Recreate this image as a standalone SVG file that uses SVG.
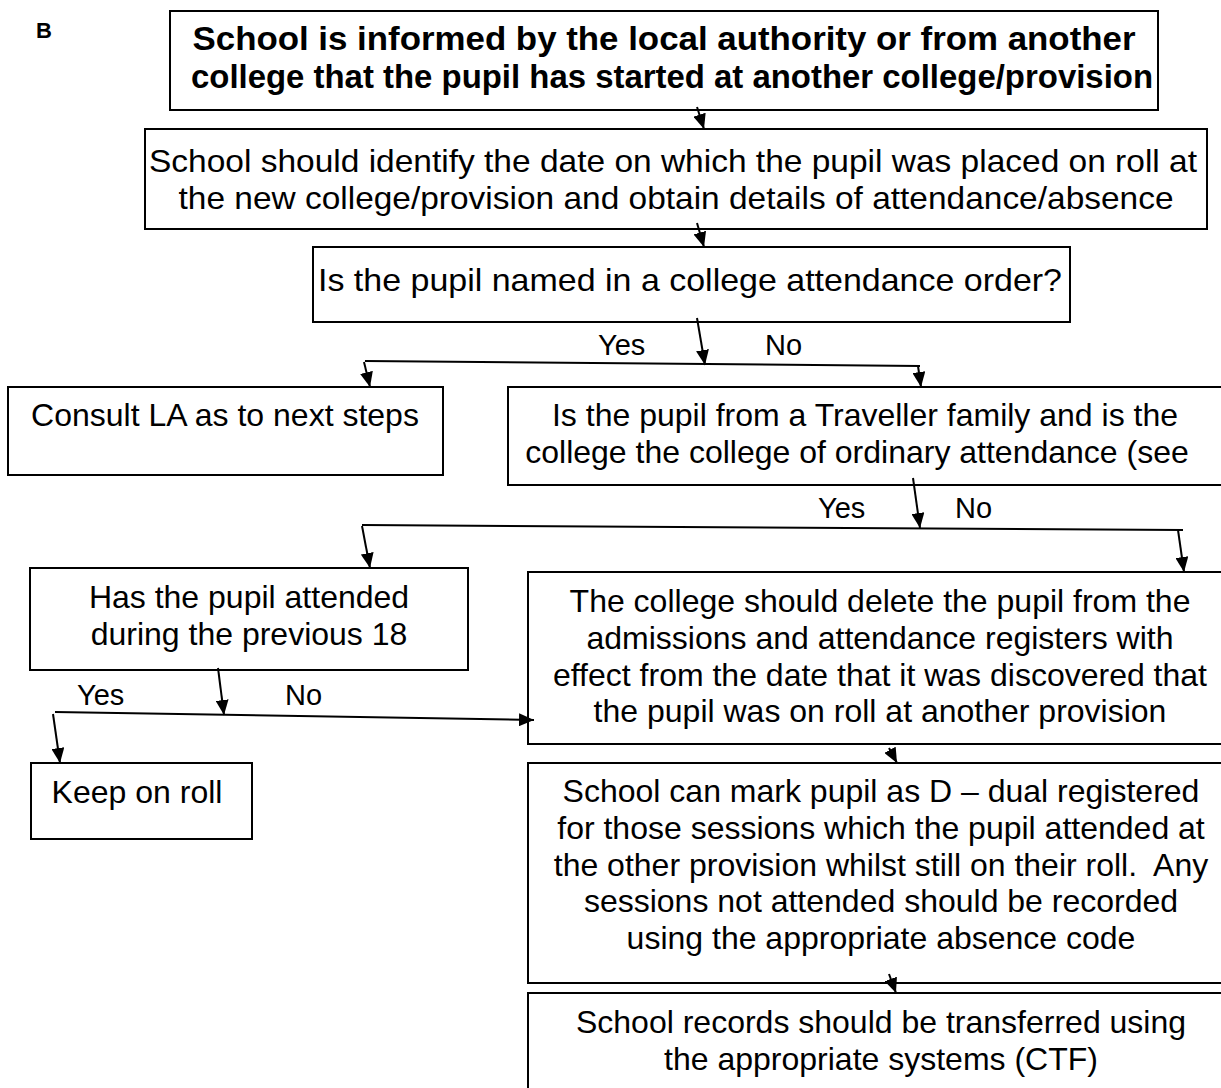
<svg xmlns="http://www.w3.org/2000/svg" width="1221" height="1088" viewBox="0 0 1221 1088">
<defs>
<style>
.box{fill:#fff;stroke:#000;stroke-width:2}
.t{font-family:"Liberation Sans",Arial,sans-serif;font-size:32px;fill:#000;text-anchor:middle}
.b{font-weight:bold;font-size:34px}
.lbl{font-family:"Liberation Sans",Arial,sans-serif;font-size:29px;fill:#000}
.c{stroke:#000;stroke-width:2;fill:none}
.a{marker-end:url(#ah)}
</style>
<marker id="ah" viewBox="0 0 15 13" refX="15" refY="6.5" markerWidth="15" markerHeight="13" orient="auto" markerUnits="userSpaceOnUse"><path d="M0,0 L15,6.5 L0,13 z" fill="#000"/></marker>
</defs>
<rect width="1221" height="1088" fill="#fff"/>
<text x="36" y="38" font-family="Liberation Sans,Arial,sans-serif" font-size="22" font-weight="bold">B</text>

<g id="n1"><rect class="box" x="170" y="11" width="988" height="99"/>
<text class="t b" x="664" y="50" textLength="943" lengthAdjust="spacingAndGlyphs">School is informed by the local authority or from another</text>
<text class="t b" x="672" y="88" textLength="962" lengthAdjust="spacingAndGlyphs">college that the pupil has started at another college/provision</text></g>

<g id="n2"><rect class="box" x="145" y="129" width="1062" height="100"/>
<text class="t" x="673" y="172" textLength="1048" lengthAdjust="spacingAndGlyphs">School should identify the date on which the pupil was placed on roll at</text>
<text class="t" x="676" y="209" textLength="995" lengthAdjust="spacingAndGlyphs">the new college/provision and obtain details of attendance/absence</text></g>

<g id="n3"><rect class="box" x="313" y="247" width="757" height="75"/>
<text class="t" x="690" y="291" font-size="34" textLength="744" lengthAdjust="spacingAndGlyphs">Is the pupil named in a college attendance order?</text></g>

<g id="n4"><rect class="box" x="8" y="387" width="435" height="88"/>
<text class="t" x="225" y="426">Consult LA as to next steps</text></g>

<g id="n5"><rect class="box" x="508" y="387" width="730" height="98"/>
<text class="t" x="865" y="426">Is the pupil from a Traveller family and is the</text>
<text class="t" x="857" y="463">college the college of ordinary attendance (see</text></g>

<g id="n6"><rect class="box" x="30" y="568" width="438" height="102"/>
<text class="t" x="249" y="608">Has the pupil attended</text>
<text class="t" x="249" y="645">during the previous 18</text></g>

<g id="n7"><rect class="box" x="528" y="572" width="710" height="172"/>
<text class="t" x="880" y="612">The college should delete the pupil from the</text>
<text class="t" x="880" y="649">admissions and attendance registers with</text>
<text class="t" x="880" y="686">effect from the date that it was discovered that</text>
<text class="t" x="880" y="722">the pupil was on roll at another provision</text></g>

<g id="n8"><rect class="box" x="31" y="763" width="221" height="76"/>
<text class="t" x="137" y="803">Keep on roll</text></g>

<g id="n9"><rect class="box" x="528" y="763" width="710" height="220"/>
<text class="t" x="881" y="802">School can mark pupil as D – dual registered</text>
<text class="t" x="881" y="839">for those sessions which the pupil attended at</text>
<text class="t" x="881" y="876" xml:space="preserve">the other provision whilst still on their roll.  Any</text>
<text class="t" x="881" y="912">sessions not attended should be recorded</text>
<text class="t" x="881" y="949">using the appropriate absence code</text></g>

<g id="n10"><rect class="box" x="528" y="993" width="710" height="110"/>
<text class="t" x="881" y="1033">School records should be transferred using</text>
<text class="t" x="881" y="1070">the appropriate systems (CTF)</text></g>

<g id="connectors">
<line class="c a" x1="697" y1="107" x2="704" y2="129"/>
<line class="c a" x1="697" y1="223" x2="704" y2="247"/>
<line class="c a" x1="697" y1="318" x2="705" y2="365"/>
<line class="c" x1="365" y1="361" x2="920" y2="366"/>
<line class="c a" x1="364" y1="362" x2="370" y2="387"/>
<line class="c a" x1="918" y1="366" x2="921" y2="387"/>
<line class="c a" x1="913" y1="478" x2="920" y2="528"/>
<line class="c" x1="362" y1="525" x2="1183" y2="530"/>
<line class="c a" x1="362" y1="526" x2="370" y2="568"/>
<line class="c a" x1="1178" y1="530" x2="1184" y2="572"/>
<line class="c a" x1="218" y1="668" x2="224" y2="715"/>
<line class="c a" x1="55" y1="712" x2="534" y2="720"/>
<line class="c a" x1="53" y1="714" x2="60" y2="763"/>
<line class="c a" x1="889" y1="748" x2="897" y2="763"/>
<line class="c a" x1="889" y1="974" x2="896" y2="993"/>
</g>

<g id="labels">
<text class="lbl" x="598" y="355">Yes</text>
<text class="lbl" x="765" y="355">No</text>
<text class="lbl" x="818" y="518">Yes</text>
<text class="lbl" x="955" y="518">No</text>
<text class="lbl" x="77" y="705">Yes</text>
<text class="lbl" x="285" y="705">No</text>
</g>
</svg>
